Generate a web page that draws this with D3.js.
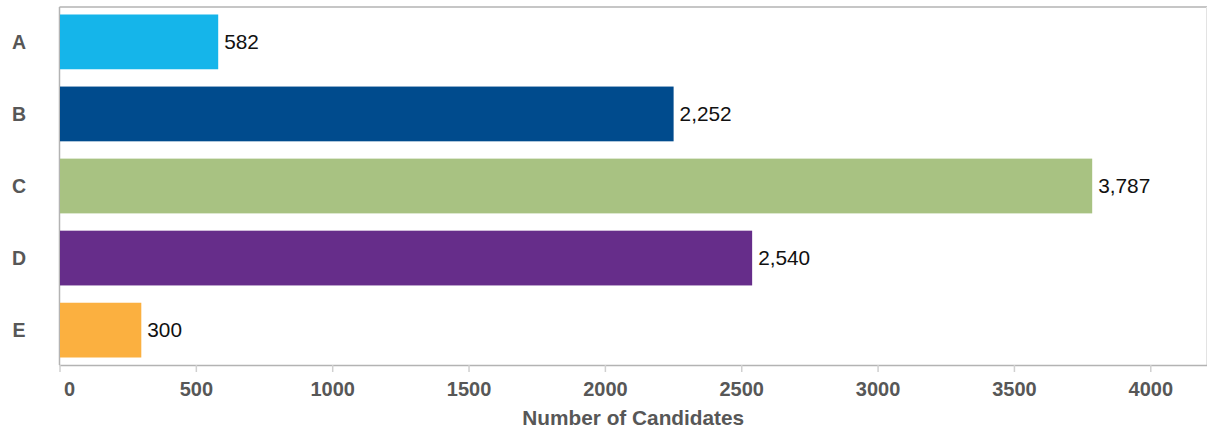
<!DOCTYPE html>
<html><head><meta charset="utf-8">
<script src="https://cdn.jsdelivr.net/npm/d3@7"></script>
<style>body{margin:0;background:#fff;}svg{display:block;font-family:"Liberation Sans",Arial,sans-serif;}</style>
</head><body><svg id="c" width="1208" height="430"></svg>
<script>
const categories = ["A","B","C","D","E"];
const values = [582, 2252, 3787, 2540, 300];
const colors = ["#15b5ea","#004b8d","#a8c282","#662d8a","#fbb040"];
const xTicks = [0,500,1000,1500,2000,2500,3000,3500,4000];
const xTitle = "Number of Candidates";

const svg = d3.select("#c");
const m = {l:59.5, r:1207, t:7, b:365};
const x = d3.scaleLinear().domain([0,4208]).range([m.l, m.r]);
const y = d3.scaleBand().domain(categories).range([m.t, m.b]).paddingInner(0.24).paddingOuter(0.104);

// frame
svg.append("line").attr("x1",m.l).attr("x2",m.r).attr("y1",m.t).attr("y2",m.t).attr("stroke","#b3b3b3").attr("stroke-width",1.5);
svg.append("line").attr("x1",m.r-0.5).attr("x2",m.r-0.5).attr("y1",m.t).attr("y2",m.b).attr("stroke","#e3e3e3").attr("stroke-width",1);
svg.append("line").attr("x1",m.l).attr("x2",m.l).attr("y1",m.t).attr("y2",m.b).attr("stroke","#b3b3b3").attr("stroke-width",1.5);

// bars
svg.selectAll("rect.bar").data(categories).enter().append("rect")
  .attr("x", x(0)+0.5).attr("y", d=>y(d))
  .attr("width", (d,i)=>x(values[i])-x(0)-0.5).attr("height", y.bandwidth())
  .attr("fill", (d,i)=>colors[i]);

// value labels
svg.selectAll("text.val").data(categories).enter().append("text")
  .attr("x",(d,i)=>x(values[i])+6).attr("y",d=>y(d)+y.bandwidth()/2)
  .attr("dy","0.34em").attr("font-size",20.8).attr("fill","#111")
  .text((d,i)=>d3.format(",")(values[i]));

// category labels
svg.selectAll("text.cat").data(categories).enter().append("text")
  .attr("x",19).attr("y",d=>y(d)+y.bandwidth()/2).attr("dy","0.36em")
  .attr("text-anchor","middle").attr("font-size",19.5).attr("font-weight","bold").attr("fill","#575757")
  .text(d=>d);

// x axis
const ax = svg.append("g").attr("transform",`translate(0,${m.b})`)
  .call(d3.axisBottom(x).tickValues(xTicks).tickSize(7).tickPadding(10).tickFormat(d3.format("d")));
ax.select(".domain").attr("stroke","#b3b3b3").attr("stroke-width",1.5).attr("d",`M${m.l},0.5H${m.r}`);
ax.selectAll(".tick line").attr("stroke","#d0d0d0").attr("stroke-width",1.5);
ax.selectAll(".tick text").attr("font-size",20).attr("font-weight","bold").attr("fill","#575757")
  .attr("font-family","Liberation Sans, Arial, sans-serif")
  .attr("dx", d=>d===0?9.5:0);

svg.append("text").attr("x",(m.l+m.r)/2).attr("y",424.5).attr("text-anchor","middle")
  .attr("font-size",20.8).attr("font-weight","bold").attr("fill","#575757").text(xTitle);
</script></body></html>
